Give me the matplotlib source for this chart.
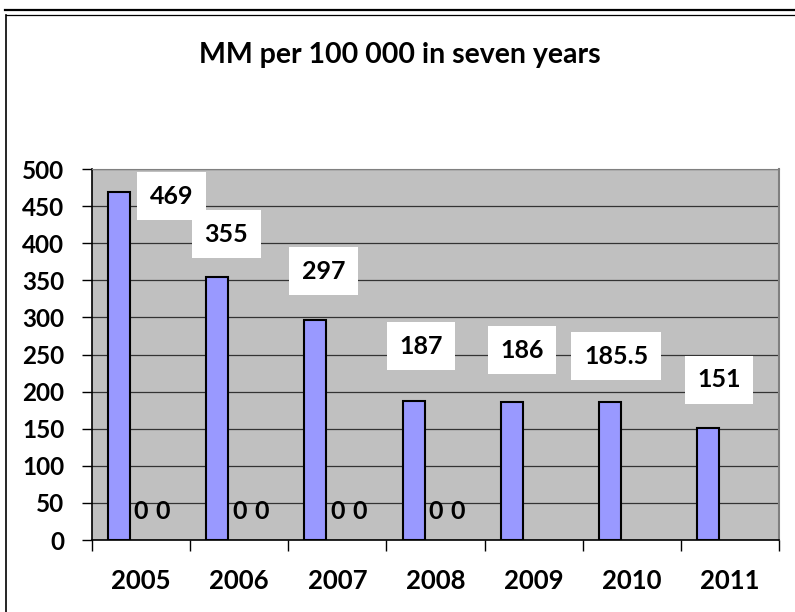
import matplotlib.pyplot as plt
from matplotlib.lines import Line2D
import numpy as np

plt.rcParams['font.family'] = 'Lato'
plt.rcParams['font.weight'] = 'bold'

# data
years = ['2005', '2006', '2007', '2008', '2009', '2010', '2011']
mm_rate = [469, 355, 297, 187, 186, 185.5, 151]
zero_a = [0, 0, 0, 0, None, None, None]
zero_b = [0, 0, 0, 0, None, None, None]
rate_labels = ['469', '355', '297', '187', '186', '185.5', '151']

# where the (hand-moved) value labels sit
label_dx = [0.31, -0.13, -0.14, -0.15, -0.12, -0.16, -0.11]
label_y = [463, 412, 362, 261, 256, 248, 216]

fig = plt.figure(figsize=(7.95, 6.12), dpi=100)
ax = fig.add_axes([0.1157, 0.1176, 0.8642, 0.6062])
ax.set_facecolor('#C0C0C0')

x = np.arange(len(years))
w = 0.224
ax.bar(x - w, mm_rate, w, color='#9999FF', edgecolor='black', linewidth=1.5, zorder=3)

# the two empty series only show their "0" labels
for off, series in [(0, zero_a), (w, zero_b)]:
    for i, v in enumerate(series):
        if v is None:
            continue
        ax.annotate(str(v), (i + off, v), xytext=(0, 20.5), textcoords='offset points',
                    ha='center', va='center', fontsize=18, fontweight='bold', zorder=4)

for i, t in enumerate(rate_labels):
    ax.text(i + label_dx[i], label_y[i], t, ha='center', va='center', fontsize=18,
            fontweight='bold', zorder=5,
            bbox=dict(facecolor='white', edgecolor='none', boxstyle='square,pad=0.5'))

ax.set_xlim(-0.5, len(years) - 0.5)
ax.set_ylim(0, 500)
ax.set_yticks(np.arange(0, 501, 50))
ax.yaxis.grid(True, color='#333333', linewidth=0.9, zorder=1)
ax.set_axisbelow(True)

ax.set_xticks(x)
ax.set_xticklabels(years)
ax.set_xticks(np.arange(-0.5, len(years), 1), minor=True)
ax.tick_params(axis='x', which='major', length=0, pad=21, labelsize=18.5)
ax.tick_params(axis='x', which='minor', length=8, width=1, direction='out')
ax.tick_params(axis='y', length=7, width=1, direction='out', pad=13, labelsize=17.5)
for lab in ax.get_xticklabels() + ax.get_yticklabels():
    lab.set_fontweight('bold')

ax.spines['left'].set_color('black')
ax.spines['bottom'].set_color('black')
ax.spines['left'].set_linewidth(1.2)
ax.spines['bottom'].set_linewidth(1.2)
ax.spines['top'].set_color('#808080')
ax.spines['right'].set_color('#808080')
ax.spines['right'].set_linewidth(1.5)

fig.text(0.5025, 1 - 55 / 612, 'MM per 100 000 in seven years', ha='center', va='center',
         fontsize=20.5, fontweight='bold')

# frame around the chart
fig.add_artist(Line2D([5 / 795, 1], [1 - 10 / 612] * 2, color='black', linewidth=1.6))
fig.add_artist(Line2D([6 / 795, 1], [1 - 14.5 / 612] * 2, color='black', linewidth=0.9))
fig.add_artist(Line2D([6 / 795] * 2, [0, 1 - 14.5 / 612], color='black', linewidth=1.2))

fig.savefig('out.png', dpi=100)
